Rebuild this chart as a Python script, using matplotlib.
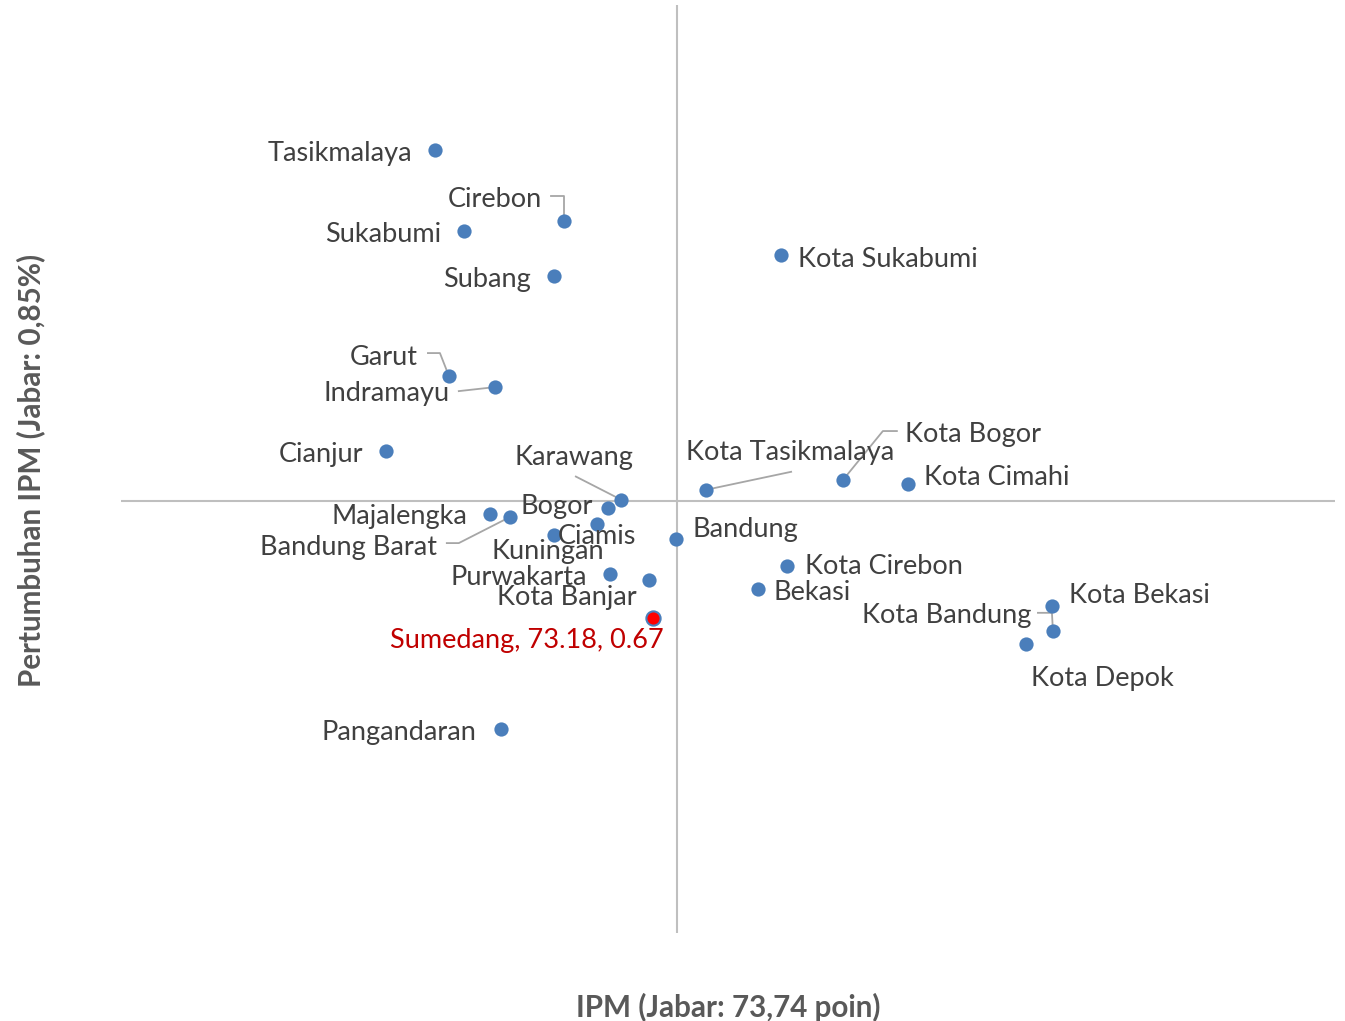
import matplotlib.pyplot as plt

plt.rcParams['font.family'] = ['Lato', 'DejaVu Sans']

# Data: IPM vs pertumbuhan IPM per kabupaten/kota
names = ["Tasikmalaya", "Cirebon", "Sukabumi", "Subang", "Kota Sukabumi", "Garut",
         "Indramayu", "Cianjur", "Kota Bogor", "Kota Tasikmalaya", "Kota Cimahi",
         "Karawang", "Bogor", "Majalengka", "Bandung Barat", "Ciamis", "Kuningan",
         "Bandung", "Purwakarta", "Kota Banjar", "Kota Cirebon", "Bekasi",
         "Kota Bekasi", "Kota Bandung", "Kota Depok", "Pangandaran"]
ipm = [68.09, 71.10, 68.77, 70.87, 76.17, 68.42,
       69.49, 66.95, 77.61, 74.42, 79.13,
       72.43, 72.13, 69.38, 69.84, 71.87, 70.87,
       73.72, 72.18, 73.09, 76.31, 75.63,
       82.49, 82.51, 81.88, 69.63]
growth = [1.39, 1.28, 1.265, 1.196, 1.228, 1.042,
          1.025, 0.927, 0.882, 0.867, 0.876,
          0.852, 0.839, 0.830, 0.825, 0.815, 0.798,
          0.792, 0.738, 0.728, 0.750, 0.715,
          0.688, 0.650, 0.630, 0.499]

sumedang = ("Sumedang", 73.18, 0.67)
jabar_ipm = 73.74
jabar_growth = 0.85

# label placement (pixel offsets, alignment)
label_pos = {
    "Tasikmalaya": (-23, -2, 'right'), "Cirebon": (-22, 24, 'right'),
    "Sukabumi": (-23, -1, 'right'), "Subang": (-23, -2, 'right'),
    "Kota Sukabumi": (17, -2, 'left'), "Garut": (-31, 21, 'right'),
    "Indramayu": (-45, -4, 'right'), "Cianjur": (-23, -2, 'right'),
    "Kota Bogor": (62, 48, 'left'), "Kota Tasikmalaya": (84, 39, 'center'),
    "Kota Cimahi": (16, 8, 'left'), "Karawang": (-47, 44, 'center'),
    "Bogor": (-15, 3, 'right'), "Majalengka": (-23, -1, 'right'),
    "Bandung Barat": (-73, -28, 'right'), "Ciamis": (0, -11, 'center'),
    "Kuningan": (-6, -15, 'center'), "Bandung": (16, 11, 'left'),
    "Purwakarta": (-23, -2, 'right'), "Kota Banjar": (-12, -15, 'right'),
    "Kota Cirebon": (18, 1, 'left'), "Bekasi": (15, -2, 'left'),
    "Kota Bekasi": (17, 13, 'left'), "Kota Bandung": (-22, 17, 'right'),
    "Kota Depok": (76, -33, 'center'), "Pangandaran": (-24, -2, 'right'),
}
leaders = {
    "Cirebon": [(-13, 25), (0, 25), (0, 0)],
    "Garut": [(-21, 23), (-9, 23), (0, 0)],
    "Indramayu": [(-36, -4), (0, 0)],
    "Kota Bogor": [(54, 49), (40, 49), (0, 0)],
    "Kota Tasikmalaya": [(85, 18), (0, 0)],
    "Karawang": [(-45, 23), (0, 0)],
    "Bandung Barat": [(-63, -26), (-51, -26), (0, 0)],
    "Kota Bandung": [(-15, 18), (-1, 18), (0, 0)],
}

blue = '#4A7EBB'
text_col = '#404040'
fs = 19.5
shift = -2  # font baseline correction

fig = plt.figure(figsize=(13.45, 10.21), dpi=100)
ax = fig.add_axes([121/1345, 1 - 933/1021, (1335-121)/1345, (933-5)/1021])
ax.set_xlim(60.77, 89.09)
ax.set_ylim(0.185, 1.613)
for s in ax.spines.values():
    s.set_visible(False)
ax.set_xticks([])
ax.set_yticks([])

ax.axvline(jabar_ipm, color='#BFBFBF', lw=1.5, zorder=1)
ax.axhline(jabar_growth, color='#BFBFBF', lw=1.5, zorder=1)

ax.scatter(ipm, growth, s=105, color=blue, zorder=3, linewidths=0)
ax.scatter([sumedang[1]], [sumedang[2]], s=105, color='red', edgecolors=blue,
           linewidths=1.5, zorder=4)

to_disp = ax.transData.transform
to_data = ax.transData.inverted().transform

for n, x, y in zip(names, ipm, growth):
    dx, dy, ha = label_pos[n]
    ax.annotate(n, (x, y), xytext=(dx, dy + shift), textcoords='offset pixels',
                ha=ha, va='center', fontsize=fs, color=text_col, zorder=5)
    if n in leaders:
        px, py = to_disp((x, y))
        pts = [to_data((px + ox, py + oy)) for ox, oy in leaders[n]]
        ax.plot([p[0] for p in pts], [p[1] for p in pts], color='#A6A6A6',
                lw=1.3, zorder=2)

ax.annotate(f"{sumedang[0]}, {sumedang[1]:.2f}, {sumedang[2]:.2f}",
            (sumedang[1], sumedang[2]), xytext=(11, -21 + shift), textcoords='offset pixels',
            ha='right', va='center', fontsize=fs, color='#C00000', zorder=5)

fig.text(728/1345, 1 - 1007/1021, "IPM (Jabar: 73,74 poin)", ha='center', va='center',
         fontsize=21.3, fontweight='bold', color='#595959')
fig.text(31/1345, 1 - 470/1021, "Pertumbuhan IPM (Jabar: 0,85%)", ha='center',
         va='center', rotation=90, fontsize=21.3, fontweight='bold', color='#595959')

fig.savefig('out.png', dpi=100)
